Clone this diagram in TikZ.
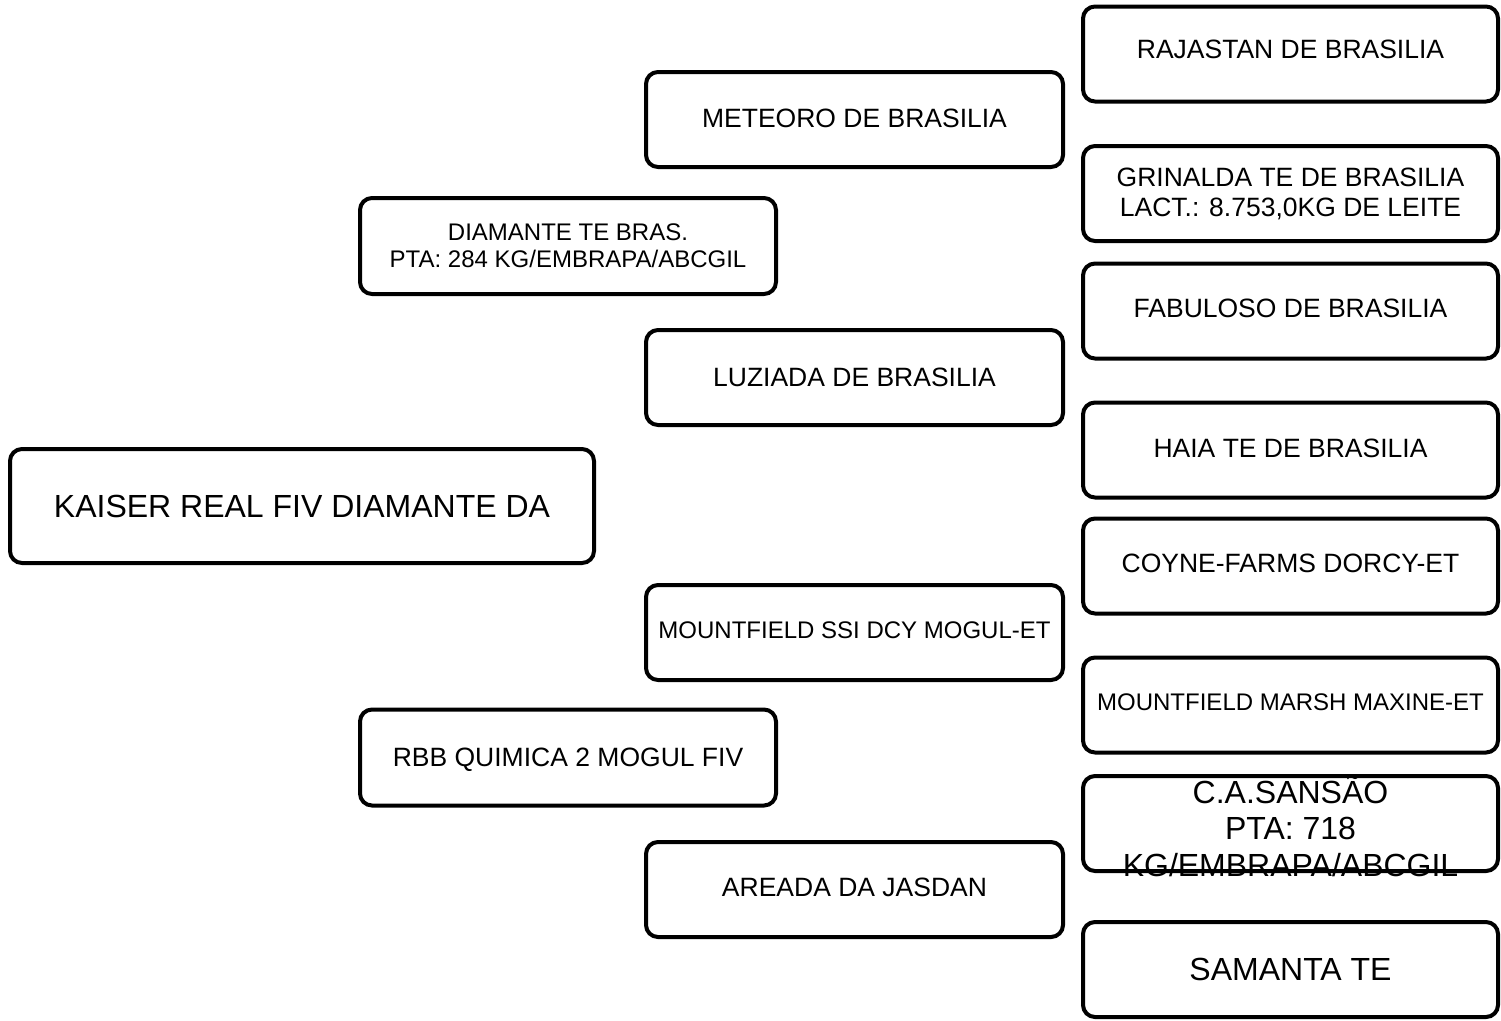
\documentclass[tikz,border=0pt]{standalone}
\usepackage{fontspec}
\setmainfont{Liberation Sans}
\newcommand\fsz[2]{\fontsize{#1pt}{#2pt}\selectfont}
\begin{document}
\begin{tikzpicture}[x=1pt,y=-1pt,
  pbox/.style={draw=black, line width=4pt, rounded corners=12pt, fill=white,
    inner sep=0pt, align=center},
  big/.style={font=\fsz{32}{36.5}},
  mid/.style={font=\fsz{26.5}{30}},
  small/.style={font=\fsz{24}{27}},
  lone/.style={pbox, minimum width=584pt, minimum height=114pt},
  lv2/.style={pbox, minimum width=416pt, minimum height=96pt},
  lv3/.style={pbox, minimum width=417pt, minimum height=95pt},
  lv4/.style={pbox, minimum width=415pt, minimum height=95pt}]
\useasboundingbox (0,0) rectangle (1501,1020);
% generation 1
\node[lone, big] (kaiser) at (302,506) {KAISER REAL FIV DIAMANTE DA};
% generation 2
\node[lv2, small] (diamante) at (568,246) {DIAMANTE TE BRAS.\\PTA: 284 KG/EMBRAPA/ABCGIL};
\node[lv2, mid, text depth=0pt] (rbb) at (568,757.5) {RBB QUIMICA 2 MOGUL FIV};
% generation 3
\node[lv3, mid, text depth=2pt] (meteoro) at (854.5,119.5) {METEORO DE BRASILIA};
\node[lv3, mid] (luziada) at (854.5,377.5) {LUZIADA DE BRASILIA};
\node[lv3, small, text depth=4pt] (mogul) at (854.5,632.5) {MOUNTFIELD SSI DCY MOGUL-ET};
\node[lv3, mid, text depth=4pt] (areada) at (854.5,889.5) {AREADA DA JASDAN};
% generation 4
\node[lv4, mid, text depth=9pt] (rajastan) at (1290.5,54) {RAJASTAN DE BRASILIA};
\node[lv4, mid] (grinalda) at (1290.5,193.5) {GRINALDA TE DE BRASILIA\\LACT.: 8.753,0KG DE LEITE};
\node[lv4, mid, text depth=6pt] (fabuloso) at (1290.5,311) {FABULOSO DE BRASILIA};
\node[lv4, mid, text depth=4pt] (haia) at (1290.5,450) {HAIA TE DE BRASILIA};
\node[lv4, mid, text depth=6pt] (coyne) at (1290.5,566) {COYNE-FARMS DORCY-ET};
\node[lv4, small, text depth=6pt] (maxine) at (1290.5,705) {MOUNTFIELD MARSH MAXINE-ET};
\node[lv4] (sansao) at (1290.5,823.5) {};
\node[big, align=center, inner sep=0pt, yshift=-2.5pt] (sansaotext) at (sansao.center) {C.A.SANSÃO\\PTA: 718\\KG/EMBRAPA/ABCGIL};
\node[lv4, big] (samanta) at (1290.5,969.5) {SAMANTA TE};
\end{tikzpicture}
\end{document}
